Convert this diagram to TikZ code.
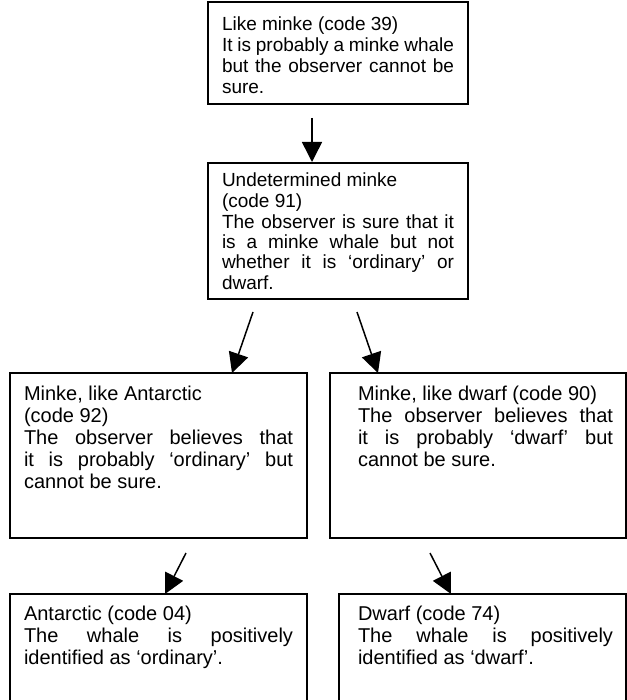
\documentclass[tikz,border=0pt]{standalone}
\usepackage{fontspec}
\setmainfont{Liberation Sans}
\usetikzlibrary{arrows.meta}
\newcommand{\lnJ}[1]{\makebox[\linewidth][s]{#1}\\}
\newcommand{\lnR}[1]{#1\\}
% #1 left pad, #2 text width, #3 right pad, #4 height, #5 first baseline, #6 font size, #7 leading, #8 text
\newcommand{\boxbody}[8]{\hbox{\kern#1\parbox[c][#4][t]{#2}{\fontsize{#6}{#7}\selectfont\setlength{\parindent}{0pt}\rule{0pt}{#5}#8}\kern#3}}
\tikzset{
  wbox/.style={draw, line width=1.5pt, anchor=north west, inner sep=0pt, outer sep=0pt},
  conn/.style={line width=1.5pt, -{Triangle[length=20pt,width=20pt]}}
}
\begin{document}
\begin{tikzpicture}[x=1pt,y=-1pt]
\useasboundingbox (0,0) rectangle (626,700);
\node[wbox] (b1) at (208,2) {\boxbody{14pt}{232pt}{14pt}{102pt}{29pt}{19}{21}{%
\lnR{Like minke (code 39)}%
\lnJ{It is probably a minke whale}%
\lnJ{but the observer cannot be}%
sure.}};
\node[wbox] (b2) at (208,163) {\boxbody{14pt}{232pt}{14pt}{136pt}{24pt}{19}{20.5}{%
\lnR{Undetermined minke}%
\lnR{\kern1pt(code 91)}%
\lnJ{The observer is sure that it}%
\lnJ{is a minke whale but not}%
\lnJ{whether it is ‘ordinary’ or}%
dwarf.}};
\node[wbox] (b3) at (10,373) {\boxbody{14pt}{269pt}{14pt}{165pt}{27pt}{20}{22}{%
\lnR{Minke, like Antarctic}%
\lnR{(code 92)}%
\lnJ{The observer believes that}%
\lnJ{it is probably ‘ordinary’ but}%
cannot be sure.}};
\node[wbox] (b4) at (330,373) {\boxbody{28pt}{255pt}{13pt}{165pt}{27pt}{20}{22}{%
\lnR{Minke, like dwarf (code 90)}%
\lnJ{The observer believes that}%
\lnJ{it is probably ‘dwarf’ but}%
cannot be sure.}};
\node[wbox] (b5) at (10,594) {\boxbody{14pt}{269pt}{14pt}{120pt}{26pt}{20}{22}{%
\lnR{Antarctic (code 04)}%
\lnJ{The whale is positively}%
identified as ‘ordinary’.}};
\node[wbox] (b6) at (339,594) {\boxbody{19pt}{255pt}{13pt}{120pt}{26pt}{20}{22}{%
\lnR{Dwarf (code 74)}%
\lnJ{The whale is positively}%
identified as ‘dwarf’.}};
\coordinate (a1s) at (312,118);
\coordinate (a1e) at (312,162);
\coordinate (a2s) at (253,312);
\coordinate (a2e) at (232,373);
\coordinate (a3s) at (357,312);
\coordinate (a3e) at (378,373);
\coordinate (a4s) at (186,553);
\coordinate (a4e) at (165,594);
\coordinate (a5s) at (430,553);
\coordinate (a5e) at (451,594);
\draw[conn] (a1s) -- (a1e);
\draw[conn] (a2s) -- (a2e);
\draw[conn] (a3s) -- (a3e);
\draw[conn] (a4s) -- (a4e);
\draw[conn] (a5s) -- (a5e);
\end{tikzpicture}
\end{document}
